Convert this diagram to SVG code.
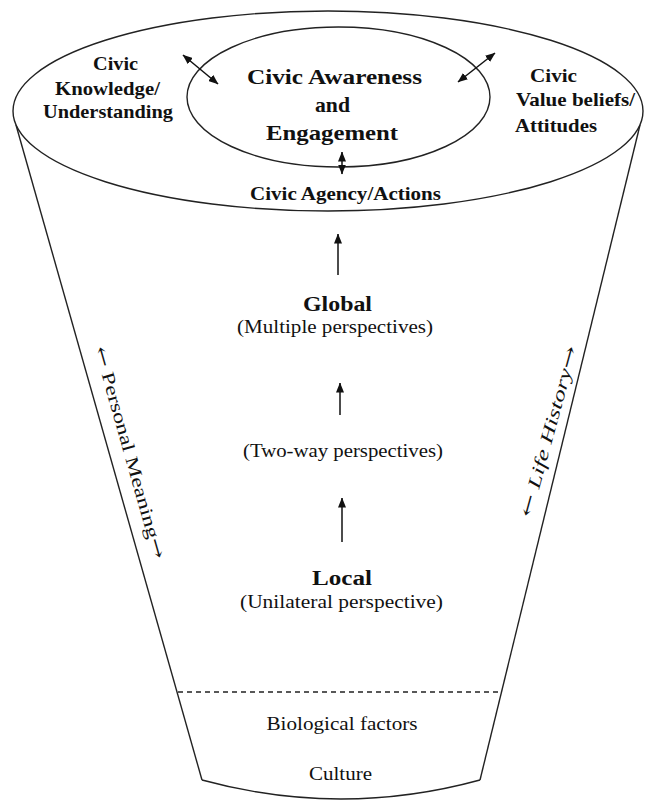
<svg xmlns="http://www.w3.org/2000/svg" width="645" height="801" viewBox="0 0 645 801">
<style>
.ln{fill:none;stroke:#222;stroke-width:1.4}
.b{font-family:"Liberation Serif","Times New Roman",serif;font-weight:bold;fill:#111;text-anchor:middle}
.r{font-family:"Liberation Serif","Times New Roman",serif;fill:#111;text-anchor:middle}
.s{font-family:"Liberation Serif","Times New Roman",serif;font-weight:bold;fill:#111;text-anchor:start}
.ar{fill:none;stroke:#111;stroke-width:1.5}
.arw{font-family:"DejaVu Serif","Liberation Serif",serif;font-size:19px}
</style>
<defs>
<marker id="ah" viewBox="0 0 10 8" refX="9.5" refY="4" markerWidth="10" markerHeight="8" markerUnits="userSpaceOnUse" orient="auto-start-reverse">
<path d="M0,0 L10,4 L0,8 z" fill="#111"/>
</marker>
</defs>
<rect width="645" height="801" fill="#fff"/>
<g id="funnel">
<path class="ln" d="M16,125 L202,780"/>
<path class="ln" d="M640,125 L480,780"/>
<path class="ln" d="M202,780 Q341,818 480,780"/>
<path class="ln" d="M178,692 L502,692" stroke-dasharray="5,4"/>
</g>
<g id="outer-ellipse">
<ellipse class="ln" cx="328" cy="111" rx="315" ry="100"/>
</g>
<g id="inner-ellipse">
<ellipse class="ln" cx="338.5" cy="97" rx="151.5" ry="70"/>
<text class="b" font-size="21" x="334.5" y="84" textLength="175" lengthAdjust="spacingAndGlyphs">Civic Awareness</text>
<text class="b" font-size="21" x="332.5" y="112" textLength="35" lengthAdjust="spacingAndGlyphs">and</text>
<text class="b" font-size="21" x="332" y="140" textLength="132" lengthAdjust="spacingAndGlyphs">Engagement</text>
</g>
<g id="knowledge">
<text class="b" font-size="19" x="115.5" y="70" textLength="45" lengthAdjust="spacingAndGlyphs">Civic</text>
<text class="b" font-size="19" x="107.5" y="95" textLength="105" lengthAdjust="spacingAndGlyphs">Knowledge/</text>
<text class="b" font-size="19" x="108" y="118" textLength="130" lengthAdjust="spacingAndGlyphs">Understanding</text>
</g>
<g id="values">
<text class="s" font-size="19" x="530" y="82" textLength="47" lengthAdjust="spacingAndGlyphs">Civic</text>
<text class="s" font-size="19" x="516" y="106" textLength="119" lengthAdjust="spacingAndGlyphs">Value beliefs/</text>
<text class="s" font-size="19" x="515" y="132" textLength="82" lengthAdjust="spacingAndGlyphs">Attitudes</text>
</g>
<g id="agency">
<text class="b" font-size="18" x="345.5" y="200" textLength="191" lengthAdjust="spacingAndGlyphs">Civic Agency/Actions</text>
</g>
<g id="global">
<text class="b" font-size="20" x="337.5" y="311" textLength="69" lengthAdjust="spacingAndGlyphs">Global</text>
<text class="r" font-size="18" x="335" y="333" textLength="196" lengthAdjust="spacingAndGlyphs">(Multiple perspectives)</text>
</g>
<g id="two-way">
<text class="r" font-size="18" x="343" y="457" textLength="200" lengthAdjust="spacingAndGlyphs">(Two-way perspectives)</text>
</g>
<g id="local">
<text class="b" font-size="20" x="342" y="585" textLength="60" lengthAdjust="spacingAndGlyphs">Local</text>
<text class="r" font-size="18" x="341.5" y="608" textLength="203" lengthAdjust="spacingAndGlyphs">(Unilateral perspective)</text>
</g>
<g id="biological">
<text class="r" font-size="18" x="342" y="730" textLength="151" lengthAdjust="spacingAndGlyphs">Biological factors</text>
</g>
<g id="culture">
<text class="r" font-size="18" x="340.5" y="780" textLength="63" lengthAdjust="spacingAndGlyphs">Culture</text>
</g>
<g id="personal-meaning">
<text class="r" font-size="18" x="124" y="454" transform="rotate(74.2 124 454)" textLength="220" lengthAdjust="spacingAndGlyphs"><tspan class="arw">←</tspan> Personal Meaning<tspan class="arw">→</tspan></text>
</g>
<g id="life-history">
<text class="r" font-size="18" x="554.5" y="433" transform="rotate(-74.7 554.5 433)" textLength="176" lengthAdjust="spacingAndGlyphs"><tspan class="arw">←</tspan> <tspan font-style="italic">Life History</tspan><tspan class="arw">→</tspan></text>
</g>
<g id="connectors">
<line class="ar" x1="183" y1="55" x2="218" y2="84" marker-start="url(#ah)" marker-end="url(#ah)"/>
<line class="ar" x1="495" y1="53" x2="458" y2="82" marker-start="url(#ah)" marker-end="url(#ah)"/>
<line class="ar" x1="342" y1="152" x2="342" y2="174" marker-start="url(#ah)" marker-end="url(#ah)"/>
<line class="ar" x1="338" y1="275" x2="338" y2="234" marker-end="url(#ah)"/>
<line class="ar" x1="340" y1="415" x2="340" y2="383" marker-end="url(#ah)"/>
<line class="ar" x1="342" y1="542" x2="342" y2="498" marker-end="url(#ah)"/>
</g>
</svg>
